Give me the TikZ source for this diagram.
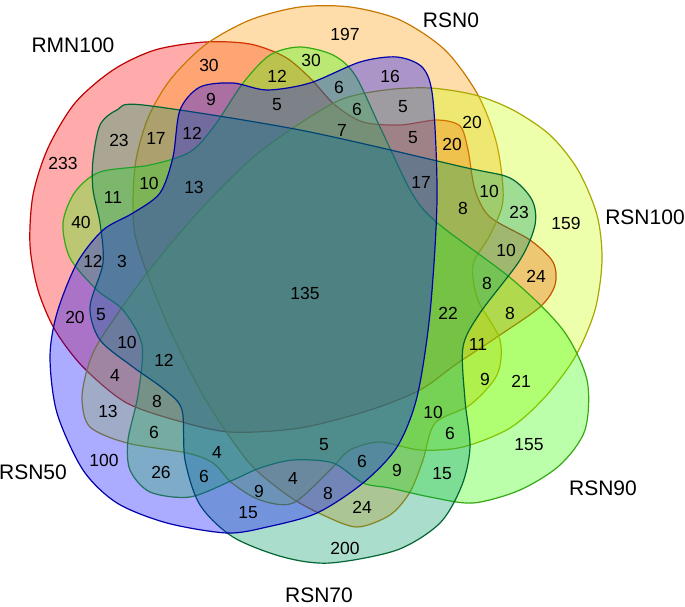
\documentclass[tikz,border=0pt]{standalone}
\usepackage{fontspec}
\setmainfont{Liberation Sans}
\usepackage{tikz}

\definecolor{rmnfill}{HTML}{FF0000}
\definecolor{rmnline}{HTML}{C00000}
\definecolor{zerofill}{HTML}{FF9900}
\definecolor{zeroline}{HTML}{C87800}
\definecolor{hundfill}{HTML}{CCFF00}
\definecolor{hundline}{HTML}{A8A800}
\definecolor{ninefill}{HTML}{33FF00}
\definecolor{nineline}{HTML}{33AA11}
\definecolor{sevenfill}{HTML}{009864}
\definecolor{sevenline}{HTML}{006633}
\definecolor{fivefill}{HTML}{0000FF}
\definecolor{fiveline}{HTML}{0000AA}

\begin{document}
\begin{tikzpicture}[x=1pt, y=-1pt,
  set/.style = {line width=1.2pt, fill opacity=0.33, draw opacity=1},
  num/.style = {font=\fontsize{17.5}{18}\selectfont},
  lab/.style = {font=\fontsize{21}{22}\selectfont}]
\useasboundingbox (0,0) rectangle (685,606);

% RMN100
\draw[set, draw=rmnline, fill=rmnfill] plot[smooth cycle] coordinates {
 (125,402) (83,367) (55,330) (38,290) (30,245) (33,195) (48,148) (75,103)
 (113,70) (155,50) (205,42) (250,44) (285,57) (310,78) (335,105) (363,122)
 (400,125) (437,120) (460,126) (468,150) (475,190) (490,217) (530,240)
 (553,262) (555,285) (540,307) (497,337) (455,365) (420,390) (370,410)
 (300,428) (230,432) (175,420)};
% RSN0
\draw[set, draw=zeroline, fill=zerofill] plot[smooth cycle] coordinates {
 (133,200) (136,160) (148,118) (170,80) (205,45) (250,20) (300,7) (350,7)
 (400,20) (445,50) (478,95) (497,145) (503,200) (490,235) (473,265)
 (478,300) (500,340) (497,375) (470,405) (435,423) (423,460) (410,492)
 (390,515) (357,527) (323,515) (290,497) (253,467) (225,430) (200,390)
 (170,330) (147,273) (135,235)};
% RSN100
\draw[set, draw=hundline, fill=hundfill] plot[smooth cycle] coordinates {
 (340,100) (385,90) (430,88) (475,95) (513,110) (550,135) (578,170)
 (597,215) (602,260) (595,310) (575,357) (545,397) (510,428) (463,447)
 (420,450) (380,442) (350,450) (330,470) (293,503) (260,500) (232,483)
 (213,463) (187,453) (127,443) (90,427) (82,400) (87,370) (100,340)
 (147,273) (200,210) (250,160) (290,130)};
% RSN90
\draw[set, draw=nineline, fill=ninefill] plot[smooth cycle] coordinates {
 (243,83) (270,55) (300,47) (333,55) (355,75) (380,127) (413,195) (440,225)
 (513,280) (563,330) (587,380) (585,430) (560,465) (520,490) (473,503)
 (430,497) (390,488) (363,483) (333,463) (293,460) (260,468) (233,480)
 (190,497) (150,492) (130,470) (128,440) (138,395) (142,345) (123,310)
 (97,290) (70,258) (63,223) (75,192) (100,172) (150,165) (190,152) (215,125)};
% RSN70
\draw[set, draw=sevenline, fill=sevenfill] plot[smooth cycle] coordinates {
 (93,160) (100,125) (117,110) (143,105) (300,130) (463,167) (510,178)
 (532,200) (535,225) (520,260) (480,313) (463,347) (465,400) (470,447)
 (462,485) (440,523) (397,550) (330,563) (283,557) (233,537) (200,505)
 (185,460) (182,410) (165,390) (133,367) (100,340) (90,307) (103,263)
 (100,223) (93,190)};
% RSN50
\draw[set, draw=fiveline, fill=fivefill] plot[smooth cycle] coordinates {
 (180,110) (200,87) (233,83) (267,90) (310,83) (360,62) (397,57) (423,68)
 (433,100) (437,200) (430,313) (417,397) (397,447) (363,483) (317,513)
 (267,527) (227,533) (167,523) (117,503) (83,470) (57,413) (50,357)
 (57,313) (77,263) (103,230) (133,213) (160,193) (173,157)};

% set names
\node[lab] (rmn) at (73,45) {RMN100};
\node[lab] (rsn0) at (451,20) {RSN0};
\node[lab] (rsn100) at (645,217) {RSN100};
\node[lab] (rsn90) at (603,488) {RSN90};
\node[lab] (rsn70) at (319,595) {RSN70};
\node[lab] (rsn50) at (33,472) {RSN50};

% counts
\foreach \x/\y/\t [count=\i] in {
 345/34/197, 209/65/30, 277/76/12, 311/60/30, 339/87/6, 390/76/16,
 211/99/9, 277/105/5, 357/109/6, 403/107/5, 342/130/7, 119/140/23,
 156/138/17, 192/133/12, 413/138/5, 472/122/20, 452/144/20, 421/182/17,
 63/163/233, 149/183/10, 194/187/13, 489/191/10, 519/212/23, 463/208/8,
 566/223/159, 113/197/11, 81/222/40, 93/261/12, 122/261/3, 506/250/10,
 305/293/135, 536/276/24, 487/283/8, 448/313/22, 510/313/8, 75/317/20,
 101/315/5, 127/342/10, 164/360/12, 478/344/11, 115/375/4, 485/379/9,
 521/381/21, 108/411/13, 157/401/8, 433/412/10, 154/432/6, 450/433/6,
 529/445/155, 104/460/100, 161/472/26, 217/452/4, 324/445/5, 204/476/6,
 362/461/6, 397/470/9, 442/474/15, 259/491/9, 293/478/4, 328/493/8,
 362/507/24, 248/513/15, 345/548/200}
 \node[num] (c\i) at (\x,\y) {\t};
\end{tikzpicture}
\end{document}
